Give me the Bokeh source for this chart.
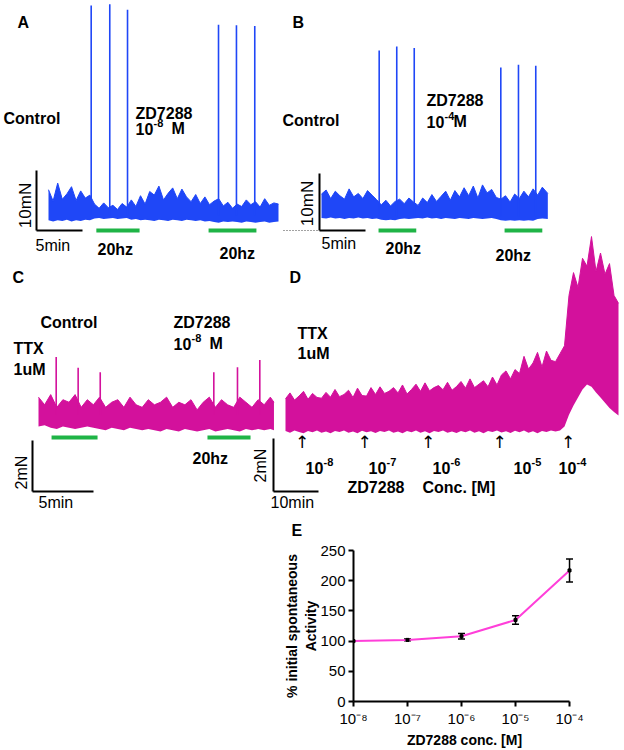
import math
from bokeh.plotting import figure
from bokeh.models import (Range1d, FixedTicker, CustomJSTickFormatter, Whisker,
                          ColumnDataSource, TeeHead)
from bokeh.layouts import column
from bokeh.embed import file_html
from bokeh.resources import INLINE
from bokeh.core.properties import value

# ======================= DATA =======================
# Panel A: blue trace, control then ZD7288 1e-8 M (time in min, force in mN)
a_time = [0.0, 0.5, 1.0, 1.5, 2.0, 2.5, 3.0, 3.5, 4.0, 4.5,
          5.0, 5.5, 6.0, 6.5, 7.0, 7.5, 8.0, 8.5, 9.0, 9.5,
          10.0, 10.5, 11.0, 11.5, 12.0, 12.5, 13.0, 13.5, 14.0, 14.5,
          15.0, 15.5, 16.0, 16.5, 17.0, 17.5, 18.0, 18.5, 19.0, 19.5,
          20.0, 20.5, 21.0, 21.5, 22.0, 22.5, 23.0, 23.5, 24.0, 24.5, 25.0]
a_hi = [6.8, 4.9, 7.9, 5.2, 6.1, 7.3, 5.0, 6.6, 5.4, 5.9,
        4.4, 3.7, 4.6, 3.8, 4.2, 3.5, 4.5, 3.9, 5.1, 4.0,
        5.8, 4.4, 6.5, 5.9, 7.4, 5.1, 6.2, 7.1, 5.3, 6.9,
        5.6, 4.8, 6.0, 4.5, 5.6, 4.3, 4.9, 5.3, 4.1, 4.7,
        3.7, 4.4, 4.0, 5.1, 4.3, 4.8, 3.9, 5.3, 4.2, 4.6, 4.4]
a_lo = [1.7, 1.5, 1.7, 1.6, 1.8, 1.5, 1.7, 1.6, 1.8, 1.7,
        2.0, 2.1, 1.9, 2.0, 2.1, 1.9, 2.0, 2.1, 1.8, 1.9,
        1.7, 1.8, 1.7, 1.6, 1.8, 1.7, 1.6, 1.8, 1.7, 1.6,
        1.8, 1.7, 1.6, 1.7, 1.5, 1.6, 1.4, 1.3, 1.5, 1.4,
        1.5, 1.4, 1.3, 1.5, 1.4, 1.3, 1.4, 1.5, 1.3, 1.4, 1.5]
a_spike_t = [4.64, 6.66, 8.59, 18.48, 20.43, 22.42]
a_spike_top = [37.5, 37.7, 36.8, 34.3, 34.2, 34.1]
a_stim_start = [5.2, 17.4]
a_stim_end = [9.9, 22.6]

# Panel B: blue trace, control then ZD7288 1e-4 M
b_time = [0.0, 0.5, 1.0, 1.5, 2.0, 2.5, 3.0, 3.5, 4.0, 4.5,
          5.0, 5.5, 6.0, 6.5, 7.0, 7.5, 8.0, 8.5, 9.0, 9.5,
          10.0, 10.5, 11.0, 11.5, 12.0, 12.5, 13.0, 13.5, 14.0, 14.5,
          15.0, 15.5, 16.0, 16.5, 17.0, 17.5, 18.0, 18.5, 19.0, 19.5,
          20.0, 20.5, 21.0, 21.5, 22.0, 22.5, 23.0, 23.5, 24.0, 24.6]
b_hi = [6.4, 7.1, 5.6, 6.9, 6.1, 5.5, 7.3, 5.9, 6.5, 5.6,
        7.0, 6.2, 5.4, 4.5, 5.3, 4.3, 5.1, 5.5, 4.7, 5.7,
        5.0, 4.4, 5.7, 4.9, 6.3, 5.1, 6.0, 6.9, 5.3, 7.0,
        5.9, 7.5, 6.1, 7.8, 5.7, 8.0, 6.6, 7.2, 5.8, 5.5,
        6.1, 5.0, 6.4, 5.6, 6.9, 5.9, 7.3, 6.2, 7.6, 6.5]
b_lo = [2.2, 2.1, 2.3, 2.1, 2.2, 2.0, 2.2, 2.1, 2.3, 2.1,
        2.2, 2.0, 2.1, 1.9, 1.8, 1.9, 1.8, 2.0, 2.1, 2.0,
        2.1, 2.2, 2.1, 2.3, 2.1, 2.2, 2.0, 2.2, 2.1, 2.0,
        2.2, 2.1, 2.0, 2.2, 2.1, 2.0, 2.1, 2.2, 2.0, 1.8,
        1.7, 1.8, 1.7, 1.8, 1.7, 1.8, 1.7, 2.0, 2.1, 2.0]
b_spike_t = [6.27, 8.18, 10.08, 19.49, 21.41, 23.29]
b_spike_top = [31.6, 32.3, 32.0, 28.6, 29.1, 28.9]
b_stim_start = [6.2, 19.9]
b_stim_end = [10.3, 24.0]

# Panel C: magenta trace in TTX 1 uM, control then ZD7288 1e-8 M
c_time = [0.0, 0.5, 1.0, 1.5, 2.0, 2.5, 3.0, 3.5, 4.0, 4.5,
          5.0, 5.5, 6.0, 6.5, 7.0, 7.5, 8.0, 8.5, 9.0, 9.5,
          10.0, 10.5, 11.0, 11.5, 12.0, 12.5, 13.0, 13.5, 14.0, 14.5,
          15.0, 15.5, 16.0, 16.5, 17.0, 17.5, 18.0, 18.5, 19.0, 19.3]
c_hi = [3.7, 3.4, 3.8, 3.3, 3.6, 3.5, 3.8, 3.3, 3.6, 3.4,
        3.7, 3.3, 3.5, 3.6, 3.3, 3.7, 3.4, 3.3, 3.6, 3.4,
        3.5, 3.7, 3.3, 3.5, 3.4, 3.6, 3.2, 3.5, 3.7, 3.3,
        3.6, 3.4, 3.3, 3.7, 3.5, 3.3, 3.6, 3.4, 3.7, 3.5]
c_lo = [2.55, 2.6, 2.5, 2.45, 2.55, 2.5, 2.45, 2.5, 2.55, 2.5,
        2.45, 2.4, 2.5, 2.45, 2.4, 2.5, 2.45, 2.4, 2.45, 2.4,
        2.35, 2.45, 2.4, 2.35, 2.45, 2.4, 2.35, 2.4, 2.45, 2.35,
        2.4, 2.45, 2.4, 2.35, 2.45, 2.4, 2.45, 2.4, 2.45, 2.4]
c_spike_t = [1.45, 3.25, 5.06, 14.37, 16.31, 18.14]
c_spike_top = [5.27, 4.85, 4.68, 4.68, 4.87, 5.16]
c_stim_start = [1.07, 13.85]
c_stim_end = [4.84, 17.38]

# Panel D: magenta trace in TTX 1 uM, cumulative ZD7288
d_time = [0, 1, 2, 3, 4, 5, 6, 7, 8, 9, 10, 11, 12, 13, 14, 15, 16, 17, 18, 19,
          20, 21, 22, 23, 24, 25, 26, 27, 28, 29, 30, 31, 32, 33, 34, 35, 36, 37, 38, 39,
          40, 41, 42, 43, 44, 45, 46, 47, 48, 49, 50, 51, 52, 53, 54, 55, 56, 57, 58, 59,
          60, 61, 62, 63, 64, 65, 66, 67, 68, 69, 70, 71, 72, 73, 74]
d_hi = [3.50, 3.72, 3.45, 3.60, 3.78, 3.48, 3.70, 3.55, 3.52, 3.74,
        3.56, 3.85, 3.58, 3.66, 3.82, 3.55, 3.90, 3.62, 3.60, 3.92,
        3.66, 3.95, 3.70, 3.78, 3.92, 3.72, 4.02, 3.68, 3.85, 4.05,
        3.78, 4.10, 3.80, 3.92, 4.00, 3.84, 4.12, 3.82, 3.96, 4.15,
        3.90, 4.25, 3.92, 4.05, 4.18, 3.95, 4.32, 4.02, 4.40, 4.55,
        4.25, 4.60, 4.45, 5.10, 4.62, 4.85, 5.25, 4.70, 5.30, 4.95,
        4.90, 5.20, 5.50, 7.40, 8.26, 7.70, 8.80, 8.50, 9.62, 8.30,
        9.00, 8.20, 8.60, 7.40, 7.10]
d_lo = [2.28, 2.22, 2.30, 2.25, 2.20, 2.28, 2.24, 2.30, 2.22, 2.26,
        2.20, 2.28, 2.25, 2.30, 2.22, 2.26, 2.20, 2.29, 2.24, 2.27,
        2.21, 2.28, 2.25, 2.30, 2.22, 2.26, 2.20, 2.28, 2.24, 2.30,
        2.22, 2.27, 2.20, 2.28, 2.25, 2.30, 2.22, 2.26, 2.21, 2.28,
        2.24, 2.30, 2.22, 2.27, 2.20, 2.28, 2.25, 2.30, 2.23, 2.27,
        2.21, 2.29, 2.24, 2.30, 2.22, 2.27, 2.20, 2.28, 2.25, 2.30,
        2.26, 2.30, 2.45, 2.90, 3.25, 3.55, 3.85, 4.04, 3.95, 3.74,
        3.55, 3.35, 3.15, 3.00, 2.87]
d_drug_t = [3.7, 17.6, 31.7, 47.6, 62.8]
d_drug_exp = ["-8", "-7", "-6", "-5", "-4"]

# Panel E: concentration-response
e_conc = [1e-8, 1e-7, 1e-6, 1e-5, 1e-4]
e_mean = [100, 102, 108, 135, 217]
e_err = [0, 1.5, 4.5, 7, 19]
e_yticks = [0, 50, 100, 150, 200, 250]

# ======================= STYLE / LAYOUT =======================
FONT = "Liberation Sans"
BLUE = "#1f47f7"
MAG = "#d3119c"
GREEN = "#1fb446"
PINK = "#ff3fd9"

# page area of the top figure (image pixel coordinates)
PX0, PX1, PY0, PY1 = 0, 624, 0, 540

# panel mapping: x pixel of t=0, px per minute, y pixel of force 0, px per mN
MAP = {
    "A": (48, 9.2, 230, 6.0),
    "B": (321, 9.2, 230, 5.7),
    "C": (38, 12.2, 491, 25.5),
    "D": (285, 4.5, 491, 26.5),
}

top = figure(width=PX1 - PX0, height=PY1 - PY0, x_range=Range1d(PX0, PX1), y_range=Range1d(PY1, PY0),
             x_axis_type=None, y_axis_type=None, toolbar_location=None,
             output_backend="svg", min_border=0, outline_line_color=None,
             background_fill_color="white", border_fill_color="white")
top.frame_align = False

for k, (x0, kx, y0, ky) in MAP.items():
    top.extra_x_ranges[k] = Range1d((PX0 - x0) / kx, (PX1 - x0) / kx)
    top.extra_y_ranges[k] = Range1d((y0 - PY1) / ky, (y0 - PY0) / ky)


def trace(k, t, lo, hi, color, spike_t, spike_top, spike_base):
    top.varea(x=t, y1=lo, y2=hi, fill_color=color, x_range_name=k, y_range_name=k)
    top.line(x=t, y=hi, line_color=color, line_width=1, x_range_name=k, y_range_name=k)
    top.segment(x0=spike_t, y0=[spike_base] * len(spike_t), x1=spike_t, y1=spike_top,
                line_color=color, line_width=1.6, x_range_name=k, y_range_name=k)


def stim(k, starts, ends, ypix):
    top.segment(x0=starts, y0=[ypix] * len(starts), x1=ends, y1=[ypix] * len(starts),
                line_color=GREEN, line_width=4, x_range_name=k)


def scalebar(k, anchor_px, force, minutes):
    x0, kx, y0, ky = MAP[k]
    ta = (anchor_px - x0) / kx
    top.segment(x0=[ta, ta], y0=[0, 0], x1=[ta, ta + minutes], y1=[force, 0],
                line_color="black", line_width=2, x_range_name=k, y_range_name=k)


def txt(x, y, s, size=16, bold=True, align="left", angle=0.0, font=FONT, xr="default"):
    top.text(x=[x], y=[y], text=[s], text_font=value(font), text_font_size=f"{size}px",
             text_font_style="bold" if bold else "normal", text_align=align,
             text_baseline="middle", angle=angle, text_color="black", x_range_name=xr)


def pow10(x, y, exp, suffix=None, suffix_dx=36):
    txt(x, y, "10")
    txt(x + 18, y - 6, exp, size=11)
    if suffix:
        txt(x + suffix_dx, y, suffix)


# traces
trace("A", a_time, a_lo, a_hi, BLUE, a_spike_t, a_spike_top, 2.5)
trace("B", b_time, b_lo, b_hi, BLUE, b_spike_t, b_spike_top, 2.5)
trace("C", c_time, c_lo, c_hi, MAG, c_spike_t, c_spike_top, 3.0)
trace("D", d_time, d_lo, d_hi, MAG, [], [], 0)

stim("A", a_stim_start, a_stim_end, 230)
stim("B", b_stim_start, b_stim_end, 230)
stim("C", c_stim_start, c_stim_end, 437)

scalebar("A", 36, 10, 5)
scalebar("B", 319, 10, 5)
scalebar("C", 32, 2, 5)
scalebar("D", 273, 2, 10)
top.line(x=[283, 318], y=[230, 230], line_color="#444444", line_width=1, line_dash="1 2")

# panel letters
for (x, y, s) in [(17, 22, "A"), (292, 22, "B"), (12, 277, "C"), (289, 277, "D"), (291, 530, "E")]:
    txt(x, y, s)

# annotations panel A/B
txt(3, 118, "Control")
txt(135, 113, "ZD7288")
pow10(135, 128, "-8", "M", 36)
txt(282, 120, "Control")
txt(426, 100, "ZD7288")
pow10(426, 121, "-4", "M", 27)
for (x, y) in [(97, 249), (219, 253), (385, 248), (495, 255), (192, 458)]:
    txt(x, y, "20hz")
txt(35, 245, "5min", bold=False)
txt(321, 243, "5min", bold=False)
txt(38, 502, "5min", bold=False)
txt(270, 502, "10min", bold=False)
txt(25, 205, "10mN", size=17, bold=False, align="center", angle=math.pi / 2)
txt(307, 203, "10mN", size=17, bold=False, align="center", angle=math.pi / 2)
txt(21, 472, "2mN", bold=False, align="center", angle=math.pi / 2)
txt(260, 465, "2mN", bold=False, align="center", angle=math.pi / 2)

# panel C/D annotations
txt(40, 322, "Control")
txt(173, 322, "ZD7288")
pow10(173, 343, "-8", "M", 36)
txt(13, 348, "TTX")
txt(13, 369, "1uM")
txt(297, 333, "TTX")
txt(297, 353, "1uM")
for t in d_drug_t:
    txt(t, 441, "\u2191", size=17, bold=False, align="center", font="DejaVu Sans", xr="D")
for x, e in zip([305, 368, 432, 513, 558], d_drug_exp):
    pow10(x, 467, e)
txt(347, 487, "ZD7288")
txt(422, 487, "Conc. [M]")

# ======================= PANEL E =======================
# x range runs a few pixels past 1e-4 so the last error-bar cap is not clipped;
# the axis line itself is bounded to 1e-8 .. 1e-4
ef = figure(width=624, height=210, x_axis_type="log", x_range=Range1d(1e-8, 1.29e-4),
            y_range=Range1d(0, 250), toolbar_location=None, output_backend="svg",
            min_border_left=353, min_border_right=49, min_border_top=10, min_border_bottom=46,
            outline_line_color=None, background_fill_color="white", border_fill_color="white")
ef.frame_align = False
ef.grid.visible = False
ef.line(e_conc, e_mean, line_color=PINK, line_width=2)
idx = [i for i, e in enumerate(e_err) if e > 0]
wsrc = ColumnDataSource(dict(x=[e_conc[i] for i in idx],
                             lower=[e_mean[i] - e_err[i] for i in idx],
                             upper=[e_mean[i] + e_err[i] for i in idx]))
ef.add_layout(Whisker(source=wsrc, base="x", lower="lower", upper="upper", dimension="height",
                      line_color="black", line_width=1.5,
                      upper_head=TeeHead(size=7, line_color="black", line_width=1.5),
                      lower_head=TeeHead(size=7, line_color="black", line_width=1.5)))
ef.scatter(e_conc, e_mean, marker="square", size=3, color="black")

ef.xaxis.ticker = FixedTicker(ticks=e_conc, minor_ticks=[])
ef.xaxis.bounds = (e_conc[0], e_conc[-1])
ef.yaxis.ticker = FixedTicker(ticks=e_yticks, minor_ticks=[])
ef.xaxis.formatter = CustomJSTickFormatter(code="""
const sup = {"-":"\u207b","0":"\u2070","1":"\u00b9","2":"\u00b2","3":"\u00b3","4":"\u2074",
             "5":"\u2075","6":"\u2076","7":"\u2077","8":"\u2078","9":"\u2079"};
const e = Math.round(Math.log10(tick));
return "10" + String(e).split("").map(c => sup[c]).join("");
""")
for ax in ef.axis:
    ax.axis_line_width = 2
    ax.axis_line_color = "black"
    ax.major_tick_line_width = 2
    ax.major_tick_out = 5
    ax.major_tick_in = 0
    ax.minor_tick_out = 0
    ax.minor_tick_in = 0
    ax.major_label_text_font = FONT
    ax.major_label_text_font_size = "15px"
    ax.major_label_text_color = "black"
    ax.major_label_standoff = 3
    ax.axis_label_text_font = FONT
    ax.axis_label_text_font_size = "14px"
    ax.axis_label_text_font_style = "bold"
    ax.axis_label_text_color = "black"
    ax.axis_label_standoff = 2
ef.yaxis.axis_label_standoff = -2
ef.xaxis.axis_label = "ZD7288 conc. [M]"
ef.yaxis.axis_label = "% initial spontaneous\nActivity"

layout = column(top, ef, spacing=0)
open("out.html", "w").write(file_html(layout, INLINE))
